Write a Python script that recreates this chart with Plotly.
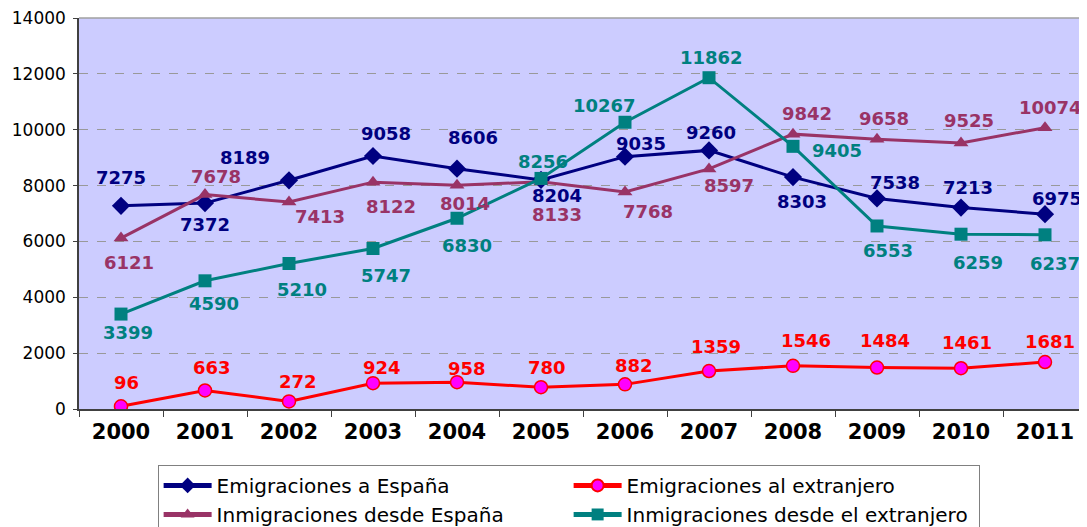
import plotly.graph_objects as go

years = ["2000", "2001", "2002", "2003", "2004", "2005", "2006", "2007", "2008", "2009", "2010", "2011"]

emig_espana = [7275, 7372, 8189, 9058, 8606, 8204, 9035, 9260, 8303, 7538, 7213, 6975]
emig_extranjero = [96, 663, 272, 924, 958, 780, 882, 1359, 1546, 1484, 1461, 1681]
inmig_espana = [6121, 7678, 7413, 8122, 8014, 8133, 7768, 8597, 9842, 9658, 9525, 10074]
inmig_extranjero = [3399, 4590, 5210, 5747, 6830, 8256, 10267, 11862, 9405, 6553, 6259, 6237]

y_ticks = [0, 2000, 4000, 6000, 8000, 10000, 12000, 14000]

# label offsets (pixels) for data labels: (dx, dy) with dy positive = downwards
off_emig_espana = [(0, -28), (0, 21), (-44, -23), (13, -23), (16, -31), (16, 16),
                   (16, -13), (2, -18), (9, 24), (18, -16), (7, -20), (12, -16)]
off_emig_extranjero = [(5, -24), (7, -23), (9, -20), (9, -16), (10, -14), (6, -20),
                       (9, -19), (7, -25), (13, -25), (8, -27), (6, -26), (5, -21)]
off_inmig_espana = [(8, 24), (11, -18), (31, 15), (18, 24), (8, 18), (16, 33),
                    (23, 19), (20, 17), (14, -21), (7, -21), (8, -22), (5, -20)]
off_inmig_extranjero = [(7, 18), (9, 23), (13, 26), (13, 27), (10, 27), (2, -17),
                        (-21, -17), (2, -20), (44, 4), (11, 25), (17, 28), (10, 29)]

NAVY = "#000080"
MAROON = "#993366"
TEAL = "#008080"
RED = "#FF0000"
MAGENTA = "#FF00FF"

fig = go.Figure()

fig.add_trace(go.Scatter(
    x=years, y=emig_espana, name="Emigraciones a España", mode="lines+markers",
    line=dict(color=NAVY, width=3),
    marker=dict(symbol="diamond", size=14, color=NAVY)))
fig.add_trace(go.Scatter(
    x=years, y=emig_extranjero, name="Emigraciones al extranjero", mode="lines+markers",
    line=dict(color=RED, width=3),
    marker=dict(symbol="circle", size=13, color=MAGENTA, line=dict(color=RED, width=1.5))))
fig.add_trace(go.Scatter(
    x=years, y=inmig_espana, name="Inmigraciones desde España", mode="lines+markers",
    line=dict(color=MAROON, width=3),
    marker=dict(symbol="triangle-up", size=13, color=MAROON)))
fig.add_trace(go.Scatter(
    x=years, y=inmig_extranjero, name="Inmigraciones desde el extranjero", mode="lines+markers",
    line=dict(color=TEAL, width=3),
    marker=dict(symbol="square", size=13, color=TEAL)))

annotations = []
for vals, offs, col in [(emig_espana, off_emig_espana, NAVY),
                        (emig_extranjero, off_emig_extranjero, RED),
                        (inmig_espana, off_inmig_espana, MAROON),
                        (inmig_extranjero, off_inmig_extranjero, TEAL)]:
    for i, (v, (dx, dy)) in enumerate(zip(vals, offs)):
        annotations.append(dict(
            x=i, y=v, xref="x", yref="y", text=f"<b>{v}</b>", showarrow=False,
            xshift=dx, yshift=-dy, borderpad=0,
            font=dict(family="DejaVu Sans", size=18, color=col)))

fig.update_layout(
    width=1079, height=519,
    margin=dict(l=71, r=0, t=10, b=118, autoexpand=False),
    paper_bgcolor="white",
    plot_bgcolor="#CCCCFF",
    annotations=annotations,
    showlegend=True,
    legend=dict(
        orientation="h", x=0.078, xanchor="left", y=-0.143, yanchor="top",
        bordercolor="#808080", borderwidth=1, bgcolor="white",
        font=dict(family="DejaVu Sans", size=20, color="black"),
        entrywidth=347, entrywidthmode="pixels", itemwidth=48,
        tracegroupgap=0, itemsizing="constant",
    ),
    shapes=[dict(type="line", xref="paper", yref="paper", x0=0, x1=1, y0=1, y1=1,
                 line=dict(color="#A0A0A0", width=1.5))],
)

fig.update_xaxes(
    type="category", range=[-0.5, 11.5], automargin=False, ticklabelstandoff=3,
    showline=True, linecolor="#404040", linewidth=1.5,
    ticks="outside", tickson="boundaries", ticklen=6, tickcolor="#404040",
    showgrid=False,
    tickfont=dict(family="DejaVu Sans", size=21, color="black", weight="bold"),
)
fig.update_yaxes(
    range=[0, 14000], tickvals=y_ticks, ticktext=[str(t) for t in y_ticks],
    automargin=False, ticklabeloverflow="allow", ticklabelstandoff=4,
    showline=True, linecolor="#404040", linewidth=1.5,
    ticks="outside", ticklen=4, tickcolor="#404040",
    showgrid=True, gridcolor="#999999", gridwidth=1, griddash="dash",
    zeroline=False,
    tickfont=dict(family="DejaVu Sans", size=17, color="black"),
)

fig.write_html("out.html")
